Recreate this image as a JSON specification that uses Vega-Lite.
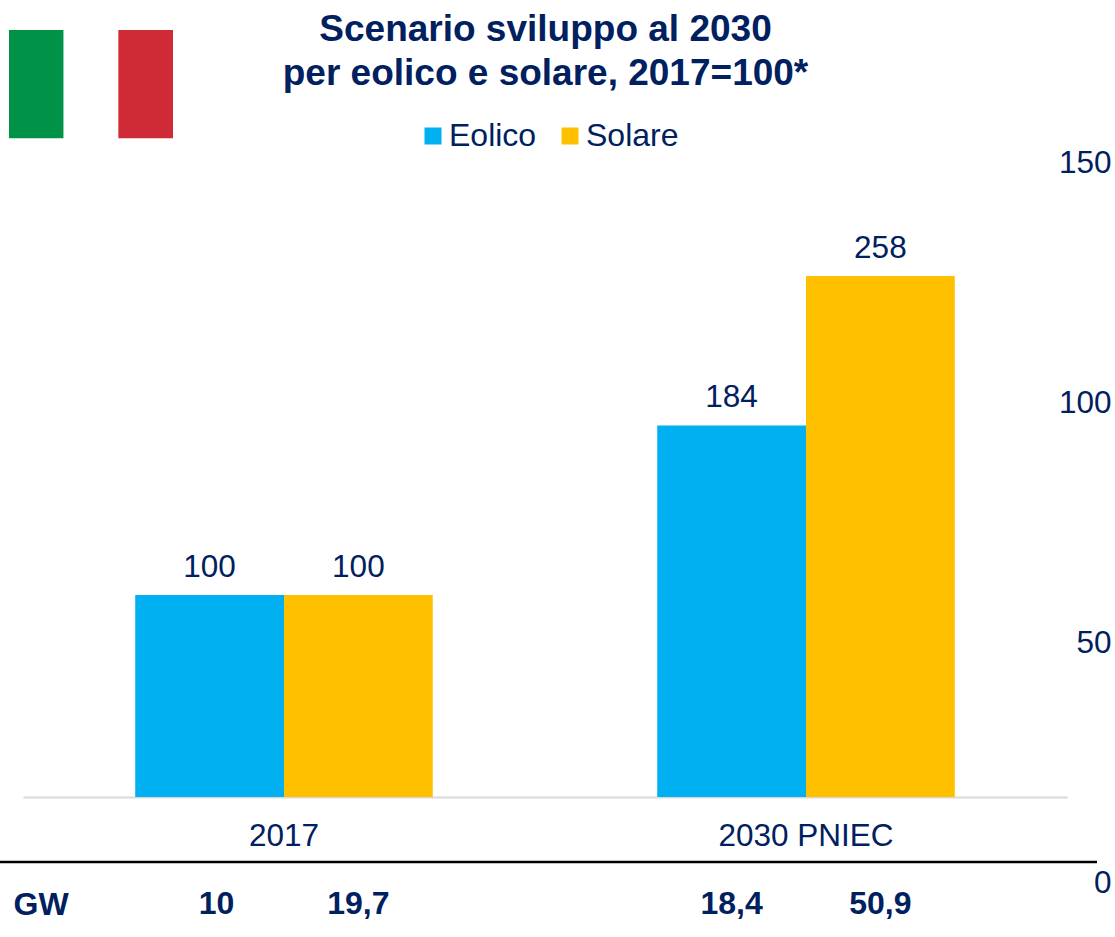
{
"$schema":"https://vega.github.io/schema/vega-lite/v6.json",
"width":1115,"height":937,"autosize":"none","padding":0,"background":"white",
"config":{"font":"Liberation Sans","view":{"stroke":null}},
"title":{"text":["Scenario sviluppo al 2030","per eolico e solare, 2017=100*"],"fontSize":37,"fontWeight":"bold","color":"#002060","anchor":"middle","frame":"group","dx":-12,"offset":-93,"lineHeight":44},
"datasets":{
"bars":[
{"periodo":"2017","fonte":"Eolico","indice":100,"gw":"10"},
{"periodo":"2017","fonte":"Solare","indice":100,"gw":"19,7"},
{"periodo":"2030 PNIEC","fonte":"Eolico","indice":184,"gw":"18,4"},
{"periodo":"2030 PNIEC","fonte":"Solare","indice":258,"gw":"50,9"}],
"flag":[{"banda":"verde","colore":"#009246"},{"banda":"bianco","colore":"#ffffff"},{"banda":"rosso","colore":"#CE2B37"}],
"assi":[{"v":0},{"v":150}],
"linea":[{"nome":"separatore"}]
},
"layer":[
{"data":{"name":"flag"},"mark":{"type":"rect"},
"encoding":{
"x":{"field":"banda","type":"nominal","sort":null,"axis":null,"scale":{"domain":["verde","bianco","rosso"],"range":[9,173],"paddingInner":0,"paddingOuter":0}},
"y":{"datum":379.7,"type":"quantitative","axis":null,"scale":{"domain":[-69.3,394.6],"range":[937,0],"nice":false,"zero":false}},
"y2":{"datum":326.2},
"fill":{"field":"colore","type":"nominal","scale":null,"legend":null}}},
{"data":{"name":"assi"},"mark":{"type":"point","opacity":0},
"encoding":{
"y":{"field":"v","type":"quantitative","scale":{"domain":[-11.46,183.75],"range":[937,0],"nice":false,"zero":false},
"axis":{"orient":"right","values":[0,50,100,150],"title":null,"domain":false,"ticks":false,"grid":false,"labelPadding":0,"offset":-4,"labelAlign":"right","labelOffset":2,"labelFontSize":31.5,"labelColor":"#002060"}}}},
{"layer":[
{"data":{"name":"bars"},"mark":{"type":"bar"},
"encoding":{
"x":{"field":"periodo","type":"nominal","sort":null,"scale":{"domain":["2017","2030 PNIEC"],"range":[23,1067],"paddingInner":0.43,"paddingOuter":0.215},
"axis":{"orient":"bottom","title":null,"offset":-140,"labelAngle":0,"ticks":false,"domainColor":"#D9D9D9","domainWidth":2,"labelPadding":23,"labelFontSize":31.5,"labelColor":"#002060"}},
"xOffset":{"field":"fonte","type":"nominal","sort":null},
"y":{"field":"indice","type":"quantitative","scale":{"domain":[-69.3,394.6],"range":[937,0],"nice":false,"zero":false},
"axis":{"orient":"left","labels":false,"ticks":false,"domain":false,"grid":false,"title":"GW","titleAngle":0,"titleAlign":"left","titleBaseline":"alphabetic","titleX":13,"titleY":914,"titleFontSize":32,"titleFontWeight":"bold","titleColor":"#002060"}},
"y2":{"datum":0},
"color":{"field":"fonte","type":"nominal","sort":null,"scale":{"domain":["Eolico","Solare"],"range":["#00B0F0","#FFC000"]},
"legend":{"orient":"none","legendX":417,"legendY":120,"direction":"horizontal","title":null,"symbolType":"square","symbolSize":289,"symbolStrokeWidth":0,"symbolOpacity":1,"labelFontSize":32,"labelColor":"#002060","columnPadding":17,"labelOffset":0}}}},
{"data":{"name":"bars"},"mark":{"type":"text","baseline":"alphabetic","dy":-18,"fontSize":31.5,"color":"#002060"},
"encoding":{
"x":{"field":"periodo","type":"nominal","sort":null},
"xOffset":{"field":"fonte","type":"nominal","sort":null},
"y":{"field":"indice","type":"quantitative"},
"text":{"field":"indice","type":"quantitative"}}},
{"data":{"name":"bars"},"transform":[{"filter":"datum.gw !== '10'"}],"mark":{"type":"text","baseline":"alphabetic","fontSize":32,"fontWeight":"bold","color":"#002060"},
"encoding":{
"x":{"field":"periodo","type":"nominal","sort":null},
"xOffset":{"field":"fonte","type":"nominal","sort":null},
"y":{"datum":-58,"type":"quantitative"},
"text":{"field":"gw","type":"nominal"}}},
{"data":{"name":"bars"},"transform":[{"filter":"datum.gw === '10'"}],"mark":{"type":"text","baseline":"alphabetic","dx":7,"fontSize":32,"fontWeight":"bold","color":"#002060"},
"encoding":{
"x":{"field":"periodo","type":"nominal","sort":null},
"xOffset":{"field":"fonte","type":"nominal","sort":null},
"y":{"datum":-58,"type":"quantitative"},
"text":{"field":"gw","type":"nominal"}}},
{"data":{"name":"linea"},"mark":{"type":"rule","color":"#000000","strokeWidth":2.5},
"encoding":{"x":{"value":0},"x2":{"value":1097},"y":{"datum":-32.2,"type":"quantitative"}}}
]}
],
"resolve":{"scale":{"x":"independent","y":"independent","fill":"independent"},"axis":{"y":"independent"}}
}
